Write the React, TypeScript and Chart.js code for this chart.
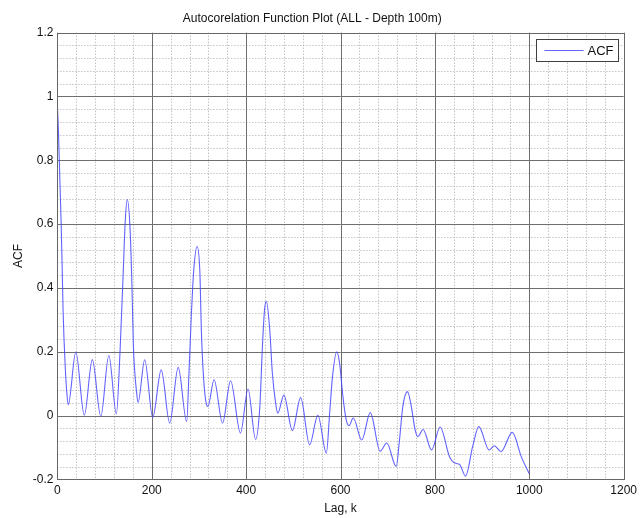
import React, { useEffect, useRef } from 'react';
import { Chart, registerables } from 'chart.js';

Chart.register(...registerables);

const chartTitle = 'Autocorelation Function Plot (ALL - Depth 100m)';
const xAxisTitle = 'Lag, k';
const yAxisTitle = 'ACF';
const seriesLabel = 'ACF';

const xTickValues = [0, 200, 400, 600, 800, 1000, 1200];
const yTickValues = [-0.2, 0, 0.2, 0.4, 0.6, 0.8, 1, 1.2];

const lags = [
  0, 2, 4, 6, 8, 10, 12, 14, 17, 20, 23, 39, 57, 74, 92, 109, 125, 133, 139, 144,
  148, 154, 158, 161, 168, 171, 185, 202, 220, 238, 256, 274, 279, 284, 289, 296,
  302, 305, 310, 316, 319, 332, 350, 367, 388, 404, 420, 429, 434.5, 439, 443, 450,
  455.5, 462.5, 467, 480, 498, 515.5, 534.5, 552, 570, 577, 583, 592, 598, 605, 612,
  618, 627, 645, 663, 684, 698, 718, 725, 732, 742, 750, 758, 764, 775, 793, 811,
  831, 844, 852, 865, 880, 893, 915, 926, 940, 964, 983, 1000,
];

const acfValues = [
  0.97, 0.9, 0.8, 0.7, 0.6, 0.47, 0.33, 0.24, 0.14, 0.07, 0.034, 0.199, 0.001, 0.175,
  -0.003, 0.188, 0.005, 0.21, 0.43, 0.615, 0.677, 0.585, 0.405, 0.22, 0.07, 0.041,
  0.175, -0.006, 0.143, -0.024, 0.151, -0.019, 0.14, 0.32, 0.457, 0.53, 0.447, 0.27,
  0.112, 0.034, 0.028, 0.112, -0.024, 0.109, -0.055, 0.083, -0.075, 0.028, 0.217,
  0.332, 0.357, 0.269, 0.133, 0.039, 0.007, 0.064, -0.047, 0.056, -0.092, 0.001,
  -0.118, 0.008, 0.122, 0.2, 0.164, 0.06, -0.013, -0.032, -0.008, -0.077, 0.009,
  -0.112, -0.086, -0.16, -0.076, 0.028, 0.075, 0.028, -0.045, -0.066, -0.044, -0.108,
  -0.036, -0.129, -0.15, -0.153, -0.19, -0.097, -0.035, -0.108, -0.095, -0.113,
  -0.053, -0.129, -0.183,
];

const FONT = 'Arial, "Liberation Sans", Helvetica, sans-serif';
const LINE_COLOR = 'rgba(70, 70, 255, 0.85)';

const gridPlugin = {
  id: 'matlabGrid',
  beforeDatasetsDraw(chart: any) {
    const { ctx, chartArea } = chart;
    const xs = chart.scales.x;
    const ys = chart.scales.y;
    ctx.save();
    // minor dotted grid (5 subdivisions between major ticks)
    ctx.strokeStyle = '#a8a8a8';
    ctx.lineWidth = 1;
    ctx.setLineDash([1, 2]);
    for (let i = 0; i < xTickValues.length - 1; i++) {
      const a = xTickValues[i];
      const b = xTickValues[i + 1];
      for (let k = 1; k < 5; k++) {
        const px = Math.round(xs.getPixelForValue(a + ((b - a) * k) / 5)) + 0.5;
        ctx.beginPath();
        ctx.moveTo(px, chartArea.top);
        ctx.lineTo(px, chartArea.bottom);
        ctx.stroke();
      }
    }
    for (let i = 0; i < yTickValues.length - 1; i++) {
      const a = yTickValues[i];
      const b = yTickValues[i + 1];
      for (let k = 1; k < 5; k++) {
        const py = Math.round(ys.getPixelForValue(a + ((b - a) * k) / 5)) + 0.5;
        ctx.beginPath();
        ctx.moveTo(chartArea.left, py);
        ctx.lineTo(chartArea.right, py);
        ctx.stroke();
      }
    }
    // major solid grid
    ctx.setLineDash([]);
    ctx.strokeStyle = '#6e6e6e';
    xTickValues.forEach((v) => {
      const px = Math.round(xs.getPixelForValue(v)) + 0.5;
      ctx.beginPath();
      ctx.moveTo(px, chartArea.top);
      ctx.lineTo(px, chartArea.bottom);
      ctx.stroke();
    });
    yTickValues.forEach((v) => {
      const py = Math.round(ys.getPixelForValue(v)) + 0.5;
      ctx.beginPath();
      ctx.moveTo(chartArea.left, py);
      ctx.lineTo(chartArea.right, py);
      ctx.stroke();
    });
    ctx.restore();
  },
  afterDraw(chart: any) {
    const { ctx, chartArea } = chart;
    ctx.save();
    // axes box
    ctx.strokeStyle = '#666666';
    ctx.lineWidth = 1;
    ctx.strokeRect(
      Math.round(chartArea.left) + 0.5,
      Math.round(chartArea.top) + 0.5,
      Math.round(chartArea.right) - Math.round(chartArea.left),
      Math.round(chartArea.bottom) - Math.round(chartArea.top)
    );
    // legend box
    const w = 82;
    const h = 22;
    const lx = Math.round(chartArea.right) - 6 - w + 0.5;
    const ly = Math.round(chartArea.top) + 6 + 0.5;
    ctx.fillStyle = '#ffffff';
    ctx.fillRect(lx, ly, w, h);
    ctx.strokeStyle = '#404040';
    ctx.strokeRect(lx, ly, w, h);
    ctx.strokeStyle = LINE_COLOR;
    ctx.beginPath();
    ctx.moveTo(lx + 8, ly + h / 2);
    ctx.lineTo(lx + 47, ly + h / 2);
    ctx.stroke();
    ctx.fillStyle = '#111111';
    ctx.font = `13px ${FONT}`;
    ctx.textBaseline = 'middle';
    ctx.textAlign = 'left';
    ctx.fillText(chart.data.datasets[0].label, lx + 51, ly + h / 2 + 0.5);
    ctx.restore();
  },
};

export default function App() {
  const canvasRef = useRef<HTMLCanvasElement | null>(null);

  useEffect(() => {
    const canvas = canvasRef.current;
    if (!canvas) return;
    const points = lags.map((x, i) => ({ x, y: acfValues[i] }));
    const chart = new Chart(canvas, {
      type: 'line',
      data: {
        datasets: [
          {
            label: seriesLabel,
            data: points,
            borderColor: LINE_COLOR,
            borderWidth: 1.1,
            pointRadius: 0,
            fill: false,
            cubicInterpolationMode: 'monotone',
          },
        ],
      },
      plugins: [gridPlugin],
      options: {
        animation: false,
        responsive: false,
        devicePixelRatio: 1,
        layout: { padding: { left: 0, right: 16.5, top: 0, bottom: 0 } },
        plugins: {
          legend: { display: false },
          tooltip: { enabled: false },
          title: {
            display: true,
            text: chartTitle,
            color: '#111111',
            font: { family: FONT, size: 12, weight: 'normal' },
            padding: { top: 11.5, bottom: 6.8 },
          },
        },
        scales: {
          x: {
            type: 'linear',
            min: 0,
            max: 1200,
            grid: { display: false, drawTicks: false },
            border: { display: false },
            afterBuildTicks: (s: any) => {
              s.ticks = xTickValues.map((v) => ({ value: v }));
            },
            afterFit: (s: any) => {
              s.height = 38.7;
            },
            ticks: {
              color: '#111111',
              font: { family: FONT, size: 12 },
              padding: 4,
              maxRotation: 0,
              autoSkip: false,
              callback: (v: any) => String(v),
            },
            title: {
              display: true,
              text: xAxisTitle,
              color: '#111111',
              font: { family: FONT, size: 12 },
              padding: { top: 0, bottom: 2 },
            },
          },
          y: {
            type: 'linear',
            min: -0.2,
            max: 1.2,
            grid: { display: false, drawTicks: false },
            border: { display: false },
            afterBuildTicks: (s: any) => {
              s.ticks = yTickValues.map((v) => ({ value: v }));
            },
            afterFit: (s: any) => {
              s.width = 57.4;
            },
            ticks: {
              color: '#111111',
              font: { family: FONT, size: 12 },
              padding: 4,
              autoSkip: false,
              callback: (v: any) => String(Number(Number(v).toFixed(1))),
            },
            title: {
              display: true,
              text: yAxisTitle,
              color: '#111111',
              font: { family: FONT, size: 12 },
              padding: { top: 11.3, bottom: 0 },
            },
          },
        },
      },
    } as any);
    return () => chart.destroy();
  }, []);

  return (
    <div style={{ position: 'absolute', left: 0, top: 0, width: 641, height: 518, background: '#ffffff' }}>
      <canvas ref={canvasRef} width={641} height={518} style={{ display: 'block' }} />
    </div>
  );
}
